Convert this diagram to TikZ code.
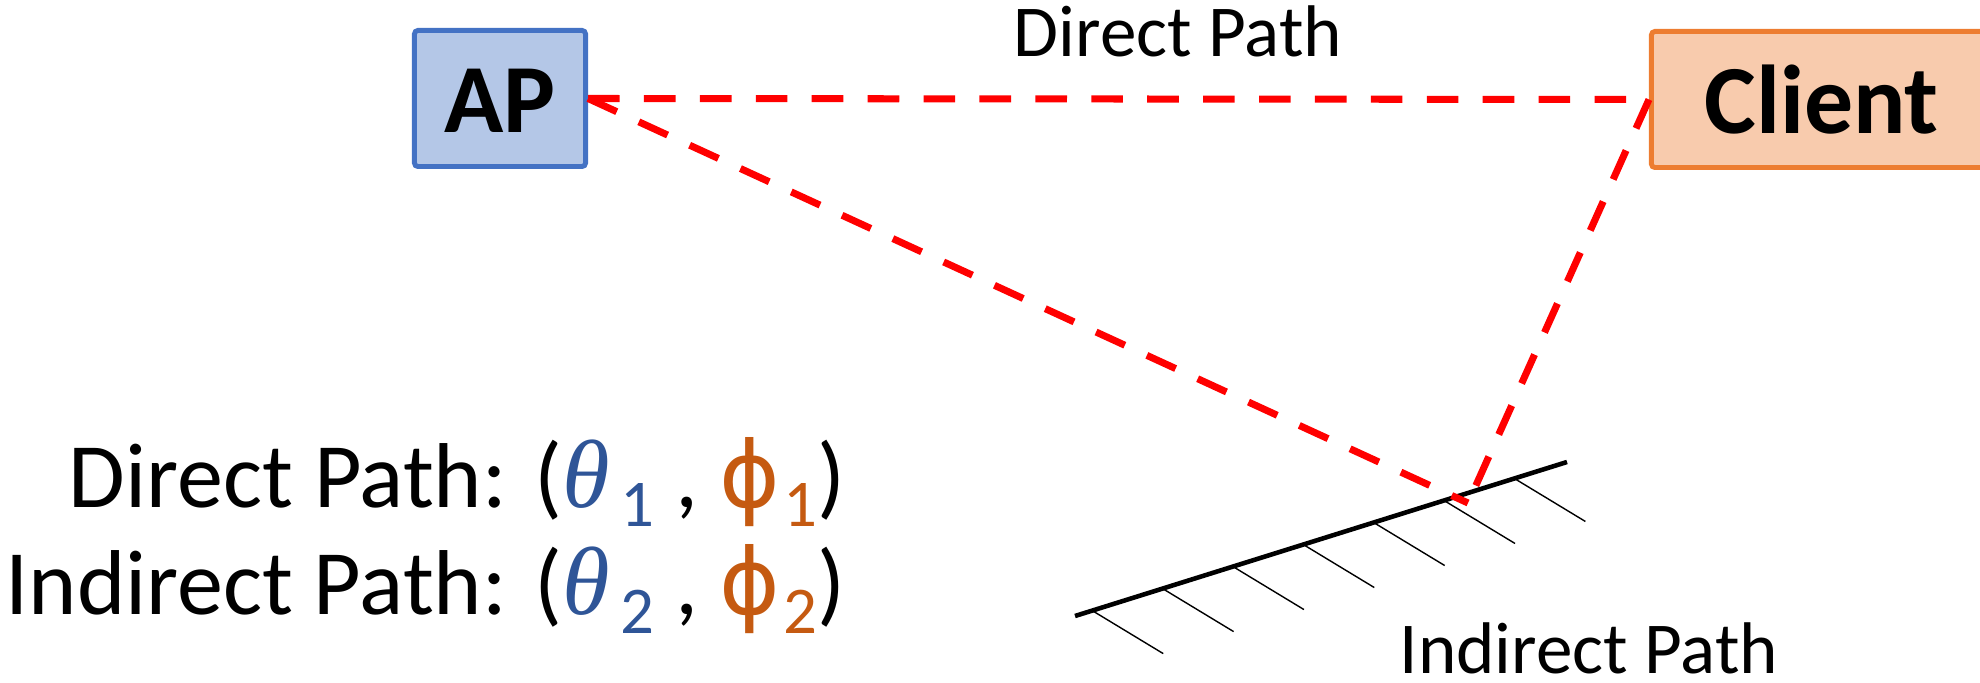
\documentclass[tikz,border=0pt]{standalone}
\usepackage{fontspec}
\setmainfont{Carlito}
\newfontfamily\thetafont[Scale=1.05]{Liberation Serif}
\newfontfamily\phifont[Scale=1.0]{DejaVu Sans}
\usetikzlibrary{calc}

\definecolor{apline}{HTML}{4472C4}
\definecolor{apfill}{HTML}{B4C7E7}
\definecolor{clline}{HTML}{ED7D31}
\definecolor{clfill}{HTML}{F8CBAD}
\definecolor{thetablue}{HTML}{2F5597}
\definecolor{phiorange}{HTML}{C55A11}

\newcommand{\lowsub}[1]{\raisebox{-5.4pt}{\fontsize{19pt}{19pt}\selectfont #1}}
\newcommand{\angpair}[1]{({\color{thetablue}{\thetafont\itshape θ}\hspace{3pt}\lowsub{#1}} , {\color{phiorange}{\phifont ϕ}\hspace{1pt}\lowsub{#1}})}

\begin{document}
\begin{tikzpicture}[
        x=0.01cm, y=-0.01cm,
        box/.style={draw, line width=1.4pt, rounded corners=1pt, minimum height=1.36cm,
            text height=0.68cm, text depth=0pt, font=\fontsize{27.8pt}{30pt}\selectfont\bfseries},
        ray/.style={draw=red, line width=2pt, dash pattern=on 9pt off 6.9pt},
        mirror/.style={line width=1.3pt},
        hatch/.style={line width=0.4pt},
        pathlabel/.style={font=\fontsize{20.8pt}{24pt}\selectfont, inner sep=0pt},
        pathinfo/.style={font=\fontsize{26.2pt}{30pt}\selectfont, inner sep=0pt, anchor=base east}
    ]

        \useasboundingbox (0,0) rectangle (1980,683);
        \clip (0,0) rectangle (1980,683);

        % -------------------------------------------------
        % AP and client
        % -------------------------------------------------
        \node[box, draw=apline, fill=apfill, minimum width=1.71cm] (AP) at (500,98.5) {AP};
        \node[box, draw=clline, fill=clfill, minimum width=3.40cm] (Client) at (1821.5,99.5) {Client};

        % -------------------------------------------------
        % Reflecting wall
        % -------------------------------------------------
        \coordinate (m1) at (1075,616);
        \coordinate (m2) at (1567,462);
        \draw[mirror] (m1) -- (m2);
        \foreach \t in {0.035,0.178,0.321,0.464,0.607,0.750,0.893} {
            \draw[hatch] ($(m1)!\t!(m2)$) -- ++(71,43);
        }
        \coordinate (refl) at (1468,503);

        % Paths
        \draw[ray] (AP.east) -- (Client.west);
        \draw[ray] (AP.east) -- (refl);
        \draw[ray] (Client.west) -- (refl);

        % -------------------------------------------------
        % Labels
        % -------------------------------------------------
        \node[pathlabel, anchor=base] (dirtop) at (1178,57) {Direct Path};
        \node[pathlabel, anchor=base west] (indbot) at (1399,673) {Indirect Path};

        \node[pathinfo] (dirinfo) at (846,508) {Direct Path: \angpair{1}};
        \node[pathinfo] (indinfo) at (846,615) {Indirect Path: \angpair{2}};

    \end{tikzpicture}
\end{document}
